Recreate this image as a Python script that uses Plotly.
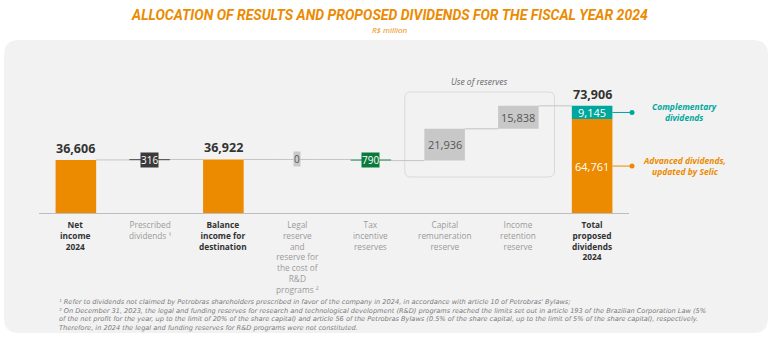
import plotly.graph_objects as go

# ---------------- data ----------------
categories = ["Net income 2024", "Prescribed dividends", "Balance income for destination",
              "Legal and R&D reserves", "Tax incentive reserves", "Capital remuneration reserve",
              "Income retention reserve", "Total proposed dividends 2024"]
cat_labels = ["<b>Net<br>income<br>2024</b>", "Prescribed<br>dividends ¹", "<b>Balance<br>income for<br>destination</b>",
              "Legal<br>reserve<br>and<br>reserve for<br>the cost of<br>R&D<br>programs ²",
              "Tax<br>incentive<br>reserves", "Capital<br>remuneration<br>reserve",
              "Income<br>retention<br>reserve", "<b>Total<br>proposed<br>dividends<br>2024</b>"]
label_main = [True, False, True, False, False, False, False, True]
measures = ["absolute", "relative", "total", "relative", "relative", "relative", "relative", "total"]
deltas = [36606, 316, None, 0, -790, 21936, 15838, None]
advanced_dividends = 64761
complementary_dividends = 9145
small_box_colors = {1: ("#3a3a3a", "white"), 3: ("#c9c9c9", "#555555"), 4: ("#0a7a3c", "white")}

ORANGE = "#EC8A00"
TEAL = "#00A79D"
GRAY = "#C8C8C8"
FONT = "Open Sans"

# ---------------- waterfall computation ----------------
levels_start, levels_end = [], []
run = 0
for m, d in zip(measures, deltas):
    if m == "absolute":
        s, run = 0, d
    elif m == "total":
        s = 0
    else:
        s = run
        run = run + d
    levels_start.append(s)
    levels_end.append(run)

W, H = 774, 342
ML, MR, MT, MB = 39, 145, 97, 129
PW, PH = W - ML - MR, H - MT - MB
YMAX = 80000
BW = 0.55
N = len(categories)


def px_x(p):
    return (p - ML) / PW


def px_y(p):
    return (H - MB - p) / PH


def cat_x(c):
    return (c + 0.5) / N


fig = go.Figure()
annotations = []
shapes = []

# main bars (large ones)
bx, by, bb, bc = [], [], [], []
for i, (m, d) in enumerate(zip(measures, deltas)):
    if i in small_box_colors:
        continue
    if m == "total" and i == N - 1:
        bx.append(categories[i]); by.append(advanced_dividends); bb.append(0); bc.append(ORANGE)
        annotations.append(dict(x=categories[i], y=advanced_dividends / 2, xref="x", yref="y",
                                text=f"{advanced_dividends:,}", showarrow=False,
                                font=dict(size=11, color="white", family=FONT)))
    elif m in ("absolute", "total"):
        bx.append(categories[i]); by.append(levels_end[i]); bb.append(0); bc.append(ORANGE)
    else:
        lo = min(levels_start[i], levels_end[i])
        bx.append(categories[i]); by.append(abs(d)); bb.append(lo); bc.append(GRAY)
        annotations.append(dict(x=categories[i], y=lo + abs(d) / 2, xref="x", yref="y",
                                text=f"{abs(d):,}", showarrow=False,
                                font=dict(size=11, color="#555555", family=FONT)))

fig.add_trace(go.Bar(x=bx, y=by, base=bb, marker=dict(color=bc, line=dict(width=0)),
                     width=BW, hoverinfo="skip"))
fig.add_trace(go.Bar(x=[categories[-1]], y=[complementary_dividends], base=[advanced_dividends],
                     marker=dict(color=TEAL, line=dict(width=0)), width=BW, hoverinfo="skip"))
annotations.append(dict(x=categories[-1], y=advanced_dividends + complementary_dividends / 2,
                        xref="x", yref="y", text=f"{complementary_dividends:,}", showarrow=False,
                        font=dict(size=11, color="white", family=FONT)))

# background panel (rounded)
x0, x1, y0, y1 = px_x(4), px_x(768), px_y(333), px_y(40)
rx, ry = 15 / PW, 15 / PH
shapes.append(dict(type="path", xref="paper", yref="paper", layer="below",
                   path=(f"M{x0+rx},{y1} L{x1-rx},{y1} Q{x1},{y1} {x1},{y1-ry} L{x1},{y0+ry} "
                         f"Q{x1},{y0} {x1-rx},{y0} L{x0+rx},{y0} Q{x0},{y0} {x0},{y0+ry} "
                         f"L{x0},{y1-ry} Q{x0},{y1} {x0+rx},{y1} Z"),
                   fillcolor="#F2F2F2", line=dict(width=0)))

# "Use of reserves" box
bx0, bx1 = cat_x(5 - 0.54), cat_x(6 + 0.49)
by0, by1 = px_y(177), px_y(92)
rx, ry = 6 / PW, 6 / PH
shapes.append(dict(type="path", xref="paper", yref="paper", layer="below",
                   path=(f"M{bx0+rx},{by1} L{bx1-rx},{by1} Q{bx1},{by1} {bx1},{by1-ry} L{bx1},{by0+ry} "
                         f"Q{bx1},{by0} {bx1-rx},{by0} L{bx0+rx},{by0} Q{bx0},{by0} {bx0},{by0+ry} "
                         f"L{bx0},{by1-ry} Q{bx0},{by1} {bx0+rx},{by1} Z"),
                   fillcolor="rgba(0,0,0,0)", line=dict(width=1, color="#DADADA")))
annotations.append(dict(xref="paper", yref="paper", x=(bx0 + bx1) / 2, y=by1, xanchor="center",
                        yanchor="bottom", yshift=3, text="<i>Use of reserves</i>", showarrow=False,
                        font=dict(size=8.5, color="#666666", family=FONT)))

# connectors
for i in range(N - 1):
    lvl = levels_end[i]
    shapes.append(dict(type="line", xref="paper", yref="y", layer="below",
                       x0=cat_x(i + BW / 2), x1=cat_x(i + 1 - BW / 2), y0=lvl, y1=lvl,
                       line=dict(color="#C4C4C4", width=1)))

# small value bars drawn as short lines + boxed labels
for i, (bg, fg) in small_box_colors.items():
    lvl = (levels_start[i] + levels_end[i]) / 2
    shapes.append(dict(type="line", xref="paper", yref="y", layer="below",
                       x0=cat_x(i - BW / 2), x1=cat_x(i + BW / 2), y0=lvl, y1=lvl,
                       line=dict(color=bg if i != 3 else "#C4C4C4", width=1)))
    annotations.append(dict(x=categories[i], y=lvl, xref="x", yref="y", text=f"{abs(deltas[i]):,}",
                            showarrow=False, bgcolor=bg, borderpad=0,
                            font=dict(size=10, color=fg, family=FONT)))

# totals above bars
for i in range(N):
    if measures[i] in ("absolute", "total"):
        annotations.append(dict(x=categories[i], y=levels_end[i], xref="x", yref="y",
                                text=f"<b>{levels_end[i]:,}</b>", showarrow=False, yanchor="bottom",
                                yshift=1, font=dict(size=12.5, color="#333333", family=FONT)))

# category labels
for i in range(N):
    annotations.append(dict(x=categories[i], y=0, xref="x", yref="paper", text=cat_labels[i],
                            showarrow=False, yanchor="top", yshift=-4,
                            font=dict(size=8.3, color="#333333" if label_main[i] else "#9a9a9a",
                                      family=FONT)))

# right side callouts
for val_mid, col, txt in [(advanced_dividends + complementary_dividends / 2, TEAL,
                           "<b><i>Complementary<br>dividends</i></b>"),
                          (advanced_dividends / 2, ORANGE,
                           "<b><i>Advanced dividends,<br>updated by Selic</i></b>")]:
    xs = cat_x(N - 1 + BW / 2)
    xe = px_x(632)
    shapes.append(dict(type="line", xref="paper", yref="y", x0=xs, x1=xe, y0=val_mid, y1=val_mid,
                       line=dict(color=col, width=1)))
    r = 2.5
    shapes.append(dict(type="circle", xref="paper", yref="y", xsizemode="pixel", ysizemode="pixel",
                       xanchor=xe, yanchor=val_mid, x0=-r, x1=r, y0=-r, y1=r,
                       fillcolor=col, line=dict(width=0)))
    annotations.append(dict(xref="paper", yref="y", x=px_x(684), y=val_mid, xanchor="center",
                            yanchor="middle", text=txt, showarrow=False,
                            font=dict(size=8.5, color=col, family=FONT), align="center"))

# title & subtitle
annotations.append(dict(xref="paper", yref="paper", x=px_x(390), y=px_y(15), xanchor="center",
                        yanchor="middle",
                        text="<b><i>ALLOCATION OF RESULTS AND PROPOSED DIVIDENDS FOR THE FISCAL YEAR 2024</i></b>",
                        showarrow=False, font=dict(size=14, color=ORANGE, family="Roboto")))
annotations.append(dict(xref="paper", yref="paper", x=px_x(390), y=px_y(29), xanchor="center",
                        yanchor="middle", text="<i>R$ million</i>", showarrow=False,
                        font=dict(size=8, color=ORANGE, family=FONT)))

# footnotes
foot = ("<i>¹ Refer to dividends not claimed by Petrobras shareholders prescribed in favor of the company in 2024, in accordance with article 10 of Petrobras' Bylaws;<br>"
        "² On December 31, 2023, the legal and funding reserves for research and technological development (R&D) programs reached the limits set out in article 193 of the Brazilian Corporation Law (5%<br>"
        "of the net profit for the year, up to the limit of 20% of the share capital) and article 56 of the Petrobras Bylaws (0.5% of the share capital, up to the limit of 5% of the share capital), respectively.<br>"
        "Therefore, in 2024 the legal and funding reserves for R&D programs were not constituted.</i>")
annotations.append(dict(xref="paper", yref="paper", x=px_x(57), y=px_y(296), xanchor="left", yanchor="top",
                        text=foot, showarrow=False, align="left",
                        font=dict(size=6.6, color="#7a7a7a", family="DejaVu Sans")))

fig.update_layout(
    width=W, height=H, margin=dict(l=ML, r=MR, t=MT, b=MB),
    paper_bgcolor="white", plot_bgcolor="rgba(0,0,0,0)",
    barmode="overlay", showlegend=False,
    xaxis=dict(type="category", categoryorder="array", categoryarray=categories,
               range=[-0.5, N - 0.5], showticklabels=False, showgrid=False, zeroline=False,
               showline=True, linecolor="#BDBDBD", linewidth=1, ticks=""),
    yaxis=dict(range=[0, YMAX], visible=False, showgrid=False, zeroline=False),
    shapes=shapes, annotations=annotations,
)

fig.write_html("out.html")
